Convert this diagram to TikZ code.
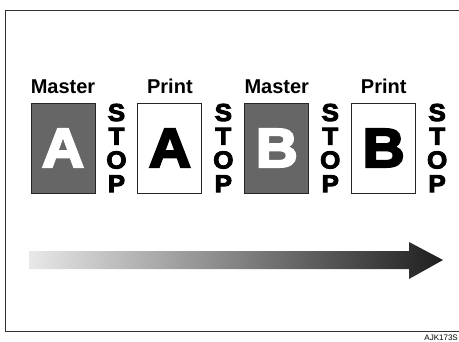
\documentclass[tikz,border=0pt]{standalone}
\usepackage{fontspec}
\setmainfont{Liberation Sans}
\newfontface\heavyfont{Liberation Sans Bold}[FakeBold=4, FakeStretch=1.06]
\usetikzlibrary{positioning, calc}
\definecolor{mastergray}{RGB}{102,102,102}
\definecolor{arrowlight}{RGB}{232,232,232}
\definecolor{arrowdark}{RGB}{30,30,30}

\begin{document}
\begin{tikzpicture}[
    x=1pt, y=1pt,
    node distance=42pt,
    page/.style={rectangle, draw=black!85, line width=0.9pt,
                 minimum width=64pt, minimum height=90pt, inner sep=0pt,
                 font=\heavyfont\fontsize{55}{55}\selectfont},
    masterpage/.style={page, fill=mastergray, text=white},
    printpage/.style={page, fill=white, text=black},
    caption/.style={inner sep=0pt, font=\bfseries\fontsize{20}{20}\selectfont},
    stopword/.style={inner sep=0pt, align=center,
                     font=\heavyfont\fontsize{24.5}{23.7}\selectfont},
    frameline/.style={draw=black!80, line width=0.9pt}
  ]
    \useasboundingbox (0,0) rectangle (459,341);
    \draw[frameline] (5,10) rectangle (475,331);

    % pages
    \node[masterpage] (mA) at (63,193) {A};
    \node[printpage,  right=of mA] (pA) {A};
    \node[masterpage, right=of pA] (mB) {B};
    \node[printpage,  right=of mB] (pB) {B};

    % captions
    \node[caption, above=9pt of mA] (tmA) {Master};
    \node[caption, above=9pt of pA] (tpA) {Print};
    \node[caption, above=9pt of mB] (tmB) {Master};
    \node[caption, above=9pt of pB] (tpB) {Print};

    % stops
    \node[stopword] (s1) at ($(mA.east)+(21,0)$) {S\\T\\O\\P};
    \node[stopword] (s2) at ($(pA.east)+(21,0)$) {S\\T\\O\\P};
    \node[stopword] (s3) at ($(mB.east)+(21,0)$) {S\\T\\O\\P};
    \node[stopword] (s4) at ($(pB.east)+(21,0)$) {S\\T\\O\\P};

    % time arrow
    \coordinate (tail) at (29,81);
    \coordinate (tip)  at (443,81);
    \shade[left color=arrowlight, right color=arrowdark]
      ($(tail)+(0,9)$) -- ($(tip)+(-34,9)$) -- ($(tip)+(-34,18)$) -- (tip)
      -- ($(tip)+(-34,-19)$) -- ($(tip)+(-34,-9)$) -- ($(tail)+(0,-9)$) -- cycle;

    \node[anchor=base east, inner sep=0pt, font=\fontsize{8}{8}\selectfont]
      (code) at (458,1) {AJK173S};
\end{tikzpicture}
\end{document}
